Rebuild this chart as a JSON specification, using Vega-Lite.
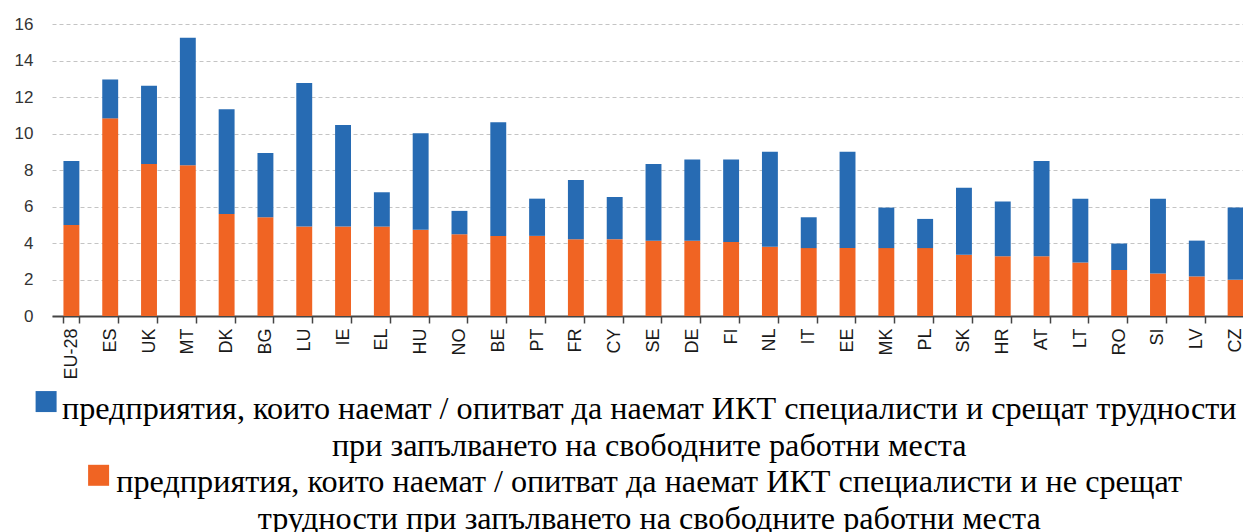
{
  "$schema": "https://vega.github.io/schema/vega-lite/v6.json",
  "autosize": "none",
  "width": 1191,
  "height": 292,
  "padding": {"left": 52, "top": 24, "right": 0, "bottom": 216},
  "background": "white",
  "data": {
    "values": [
      {"country": "EU-28", "series": "b", "value": 4.98}, {"country": "EU-28", "series": "a", "value": 3.51},
      {"country": "ES", "series": "b", "value": 10.83}, {"country": "ES", "series": "a", "value": 2.13},
      {"country": "UK", "series": "b", "value": 8.33}, {"country": "UK", "series": "a", "value": 4.28},
      {"country": "MT", "series": "b", "value": 8.26}, {"country": "MT", "series": "a", "value": 6.99},
      {"country": "DK", "series": "b", "value": 5.59}, {"country": "DK", "series": "a", "value": 5.74},
      {"country": "BG", "series": "b", "value": 5.41}, {"country": "BG", "series": "a", "value": 3.52},
      {"country": "LU", "series": "b", "value": 4.90}, {"country": "LU", "series": "a", "value": 7.87},
      {"country": "IE", "series": "b", "value": 4.90}, {"country": "IE", "series": "a", "value": 5.56},
      {"country": "EL", "series": "b", "value": 4.90}, {"country": "EL", "series": "a", "value": 1.88},
      {"country": "HU", "series": "b", "value": 4.73}, {"country": "HU", "series": "a", "value": 5.29},
      {"country": "NO", "series": "b", "value": 4.48}, {"country": "NO", "series": "a", "value": 1.28},
      {"country": "BE", "series": "b", "value": 4.39}, {"country": "BE", "series": "a", "value": 6.23},
      {"country": "PT", "series": "b", "value": 4.39}, {"country": "PT", "series": "a", "value": 2.04},
      {"country": "FR", "series": "b", "value": 4.21}, {"country": "FR", "series": "a", "value": 3.24},
      {"country": "CY", "series": "b", "value": 4.21}, {"country": "CY", "series": "a", "value": 2.31},
      {"country": "SE", "series": "b", "value": 4.13}, {"country": "SE", "series": "a", "value": 4.20},
      {"country": "DE", "series": "b", "value": 4.13}, {"country": "DE", "series": "a", "value": 4.45},
      {"country": "FI", "series": "b", "value": 4.05}, {"country": "FI", "series": "a", "value": 4.53},
      {"country": "NL", "series": "b", "value": 3.79}, {"country": "NL", "series": "a", "value": 5.21},
      {"country": "IT", "series": "b", "value": 3.72}, {"country": "IT", "series": "a", "value": 1.69},
      {"country": "EE", "series": "b", "value": 3.72}, {"country": "EE", "series": "a", "value": 5.28},
      {"country": "MK", "series": "b", "value": 3.72}, {"country": "MK", "series": "a", "value": 2.22},
      {"country": "PL", "series": "b", "value": 3.72}, {"country": "PL", "series": "a", "value": 1.60},
      {"country": "SK", "series": "b", "value": 3.35}, {"country": "SK", "series": "a", "value": 3.68},
      {"country": "HR", "series": "b", "value": 3.28}, {"country": "HR", "series": "a", "value": 2.99},
      {"country": "AT", "series": "b", "value": 3.28}, {"country": "AT", "series": "a", "value": 5.21},
      {"country": "LT", "series": "b", "value": 2.93}, {"country": "LT", "series": "a", "value": 3.50},
      {"country": "RO", "series": "b", "value": 2.52}, {"country": "RO", "series": "a", "value": 1.45},
      {"country": "SI", "series": "b", "value": 2.33}, {"country": "SI", "series": "a", "value": 4.10},
      {"country": "LV", "series": "b", "value": 2.17}, {"country": "LV", "series": "a", "value": 1.96},
      {"country": "CZ", "series": "b", "value": 1.98}, {"country": "CZ", "series": "a", "value": 3.96}
    ]
  },
  "mark": {"type": "bar"},
  "encoding": {
    "x": {
      "field": "country",
      "type": "nominal",
      "sort": null,
      "scale": {"range": [0, 1203], "paddingInner": 0.59, "paddingOuter": 0.295},
      "axis": {
        "title": null,
        "labelAngle": -90,
        "labelFont": "Liberation Sans",
        "labelFontSize": 18,
        "labelColor": "#1a1a1a",
        "labelPadding": 5,
        "tickBand": "extent",
        "ticks": true,
        "tickSize": 7,
        "tickWidth": 1.5,
        "tickColor": "#444444",
        "domainColor": "#444444",
        "domainWidth": 2,
        "grid": false
      }
    },
    "y": {
      "field": "value",
      "type": "quantitative",
      "stack": "zero",
      "scale": {"domain": [0, 16], "nice": false},
      "axis": {
        "title": null,
        "values": [0, 2, 4, 6, 8, 10, 12, 14, 16],
        "domain": false,
        "ticks": false,
        "labelPadding": 19,
        "labelFont": "Liberation Sans",
        "labelFontSize": 17,
        "labelColor": "#333333",
        "grid": true,
        "gridColor": "#c4c4c4",
        "gridDash": [4, 3],
        "gridWidth": 1
      }
    },
    "color": {
      "field": "series",
      "type": "nominal",
      "scale": {"domain": ["a", "b"], "range": ["#276bb3", "#f06423"]},
      "legend": {
        "title": null,
        "orient": "none",
        "legendX": -22,
        "legendY": 379,
        "direction": "vertical",
        "padding": 0,
        "symbolType": "square",
        "symbolSize": 441,
        "symbolStrokeWidth": 0,
        "symbolOpacity": 1,
        "labelFont": "Liberation Serif",
        "labelFontSize": 32.2,
        "labelColor": "#000000",
        "labelLimit": 0,
        "labelAlign": "center",
        "labelBaseline": "alphabetic",
        "labelOffset": 587,
        "rowPadding": 2,
        "labelExpr": "datum.value == 'a' ? ['предприятия, които наемат / опитват да наемат ИКТ специалисти и срещат трудности', 'при запълването на свободните работни места'] : ['предприятия, които наемат / опитват да наемат ИКТ специалисти и не срещат', 'трудности при запълването на свободните работни места']",
        "encode": {
          "symbols": {
            "update": {
              "shape": {"signal": "datum.value == 'a' ? 'M-1,-2.67H1V-0.67H-1Z' : 'M4,-2.6H6V-0.6H4Z'"}
            }
          },
          "labels": {
            "update": {
              "lineHeight": {"value": 36.5}
            }
          }
        }
      }
    },
    "order": {"field": "series", "sort": "descending"}
  },
  "config": {
    "view": {"stroke": null}
  }
}
